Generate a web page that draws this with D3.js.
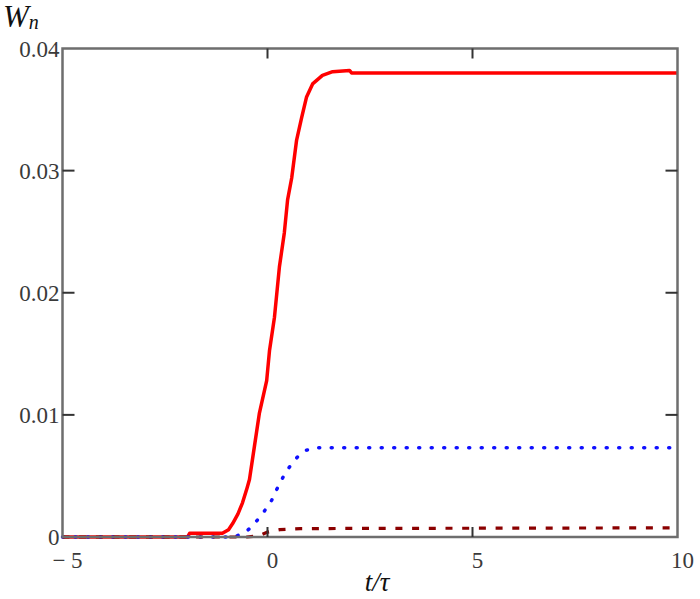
<!DOCTYPE html>
<html>
<head>
<meta charset="utf-8">
<script src="https://cdn.jsdelivr.net/npm/d3@7"></script>
<style>
  html, body { margin: 0; padding: 0; background: #fff; }
  svg { display: block; }
</style>
</head>
<body>
<svg id="chart" width="700" height="599"></svg>
<script>
// ---- data ----
const redT  = [-5, -1.95, -1.9, -1.1, -0.95, -0.85, -0.72, -0.61, -0.5, -0.44, -0.32, -0.2, -0.02, 0.05, 0.17, 0.29, 0.41, 0.49, 0.59, 0.71, 0.83, 0.95, 1.1, 1.34, 1.59, 2.0, 2.05, 10];
const redW  = [0, 0, 0.0003, 0.0003, 0.0006, 0.0011, 0.0019, 0.0028, 0.0040, 0.0047, 0.0074, 0.0101, 0.0128, 0.0153, 0.0180, 0.0221, 0.0249, 0.0276, 0.0294, 0.0325, 0.0343, 0.0360, 0.0371, 0.0378, 0.0381, 0.0382, 0.0380, 0.0380];

const blueT = [-5, -0.8, -0.68, -0.5, -0.37, -0.12, 0.10, 0.24, 0.41, 0.61, 0.80, 0.93, 1.22, 10];
const blueW = [0, 0, 0.0002, 0.0005, 0.0009, 0.0019, 0.0030, 0.0040, 0.0051, 0.0061, 0.0068, 0.0071, 0.0073, 0.0073];

const darkT = [-5, -0.5, -0.2, 0, 0.3, 0.8, 2, 10];
const darkW = [0, 0, 0.0001, 0.0004, 0.0006, 0.00068, 0.0007, 0.00075];

const xTicks = [-5, 0, 5, 10];
const xTickLabels = ["\u2212 5", "0", "5", "10"];
const yTicks = [0, 0.01, 0.02, 0.03, 0.04];
const yTickLabels = ["0", "0.01", "0.02", "0.03", "0.04"];

// ---- layout ----
const svg = d3.select("#chart");
const x = d3.scaleLinear().domain([-5, 10]).range([62.5, 677.5]);
const y = d3.scaleLinear().domain([0, 0.04]).range([537, 48.5]);

svg.append("rect").attr("width", 700).attr("height", 599).attr("fill", "#fff");

const line = d3.line().x(d => x(d[0])).y(d => y(d[1]));
const zip = (a, b) => a.map((v, i) => [v, b[i]]);

// curves
svg.append("path").datum(zip(redT, redW))
  .attr("d", line).attr("fill", "none")
  .attr("stroke", "#ff0000").attr("stroke-width", 3.5)
  .attr("stroke-linejoin", "round");

svg.append("path").datum(zip(blueT, blueW))
  .attr("d", line).attr("fill", "none")
  .attr("stroke", "#1010ff").attr("stroke-width", 3.5)
  .attr("stroke-linecap", "round")
  .attr("stroke-dasharray", "1 11.5");

svg.append("path").datum(zip(darkT, darkW))
  .attr("d", line).attr("fill", "none")
  .attr("stroke", "#8b0000").attr("stroke-width", 3.2)
  .attr("stroke-dasharray", "7 9.7");

// frame
svg.append("rect")
  .attr("x", x(-5)).attr("y", y(0.04))
  .attr("width", x(10) - x(-5)).attr("height", y(0) - y(0.04))
  .attr("fill", "none").attr("stroke", "#6e6e6e").attr("stroke-width", 2.5);

// inner ticks
const tickG = svg.append("g").attr("stroke", "#333").attr("stroke-width", 2);
yTicks.filter(v => v > 0 && v < 0.04).forEach(v => {
  tickG.append("line").attr("x1", x(-5)).attr("x2", x(-5) + 12).attr("y1", y(v)).attr("y2", y(v));
  tickG.append("line").attr("x1", x(10)).attr("x2", x(10) - 12).attr("y1", y(v)).attr("y2", y(v));
});
xTicks.filter(v => v > -5 && v < 10).forEach(v => {
  tickG.append("line").attr("x1", x(v)).attr("x2", x(v)).attr("y1", y(0)).attr("y2", y(0) - 10);
  tickG.append("line").attr("x1", x(v)).attr("x2", x(v)).attr("y1", y(0.04)).attr("y2", y(0.04) + 10);
});

// tick labels
const font = "'Liberation Serif', 'Times New Roman', serif";
svg.append("g").selectAll("text").data(yTicks).join("text")
  .attr("x", x(-5) - 3).attr("y", d => y(d) + 3)
  .attr("text-anchor", "end").attr("dominant-baseline", "middle")
  .attr("font-family", font).attr("font-size", 23).attr("fill", "#3a3a3a")
  .text((d, i) => yTickLabels[i]);

svg.append("g").selectAll("text").data(xTicks).join("text")
  .attr("x", d => x(d) + 5).attr("y", 568)
  .attr("text-anchor", "middle")
  .attr("font-family", font).attr("font-size", 23).attr("fill", "#3a3a3a")
  .attr("xml:space", "preserve")
  .text((d, i) => xTickLabels[i]);

// axis titles
const yt = svg.append("text").attr("x", 3).attr("y", 27)
  .attr("font-family", font).attr("font-style", "italic").attr("fill", "#111");
yt.append("tspan").attr("font-size", 31).text("W");
yt.append("tspan").attr("font-size", 20).attr("dy", 2).text("n");

svg.append("text").attr("x", 377).attr("y", 591)
  .attr("text-anchor", "middle")
  .attr("font-family", font).attr("font-style", "italic").attr("font-size", 27).attr("fill", "#111")
  .text("t/\u03c4");
</script>
</body>
</html>
